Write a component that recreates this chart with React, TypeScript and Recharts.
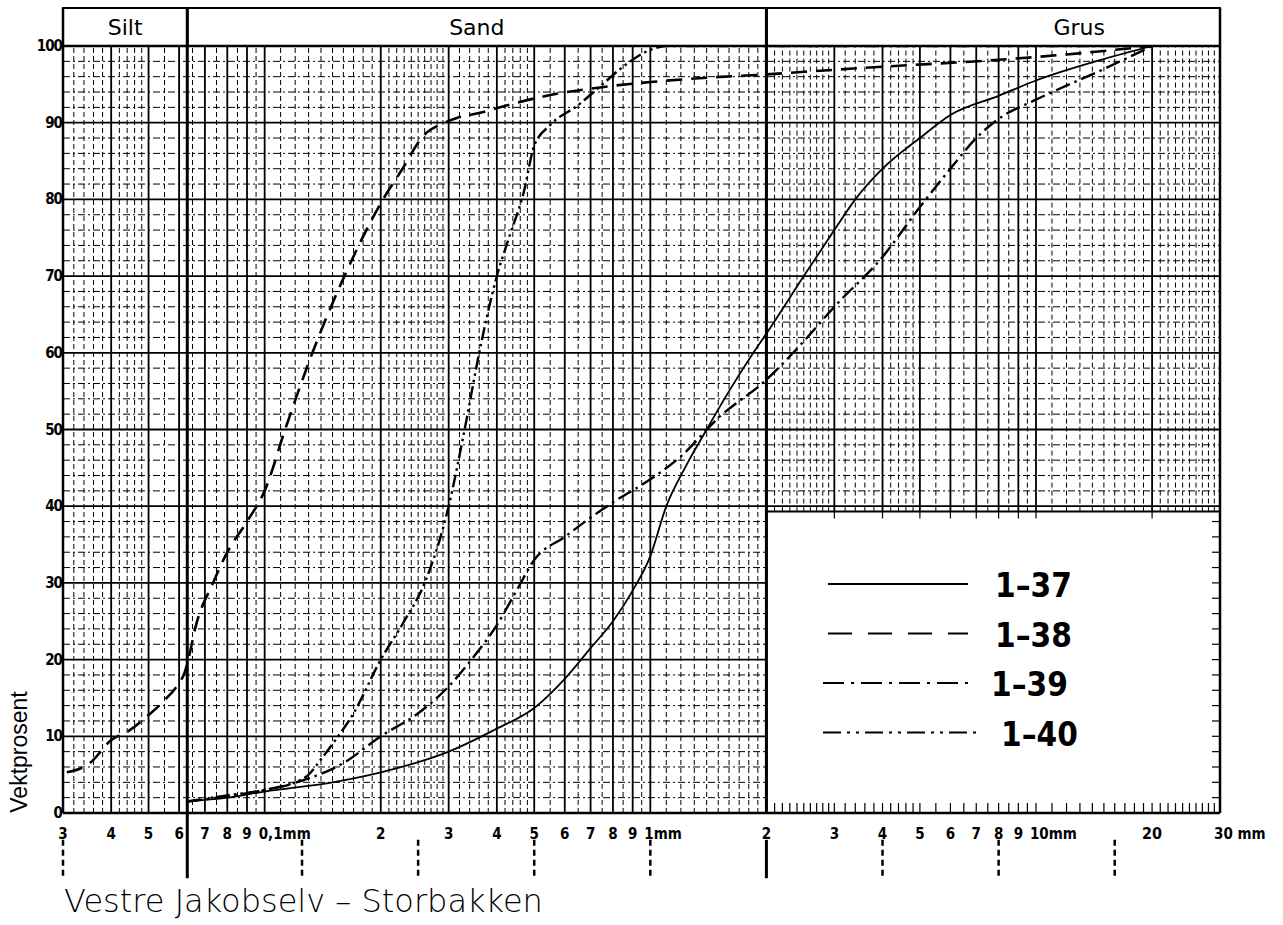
import React from "react";
import {
  ComposedChart,
  Line,
  XAxis,
  YAxis,
  ReferenceLine,
  ReferenceArea,
  Legend,
} from "recharts";

// Sieve analysis, grain size (mm, log scale) vs cumulative weight percent
const curve137 = [
  { size: 0.063, pct: 1.5 }, { size: 0.08, pct: 2 }, { size: 0.1, pct: 2.8 },
  { size: 0.15, pct: 4 }, { size: 0.2, pct: 5.3 }, { size: 0.3, pct: 8 },
  { size: 0.4, pct: 11 }, { size: 0.5, pct: 13.7 }, { size: 0.6, pct: 17.5 },
  { size: 0.7, pct: 21.5 }, { size: 0.8, pct: 25 }, { size: 0.9, pct: 29 },
  { size: 1, pct: 33.5 }, { size: 1.1, pct: 40 }, { size: 1.23, pct: 45 },
  { size: 1.4, pct: 50 }, { size: 1.6, pct: 55 }, { size: 1.85, pct: 60 },
  { size: 2, pct: 62.5 }, { size: 2.5, pct: 70 }, { size: 3, pct: 76 },
  { size: 3.4, pct: 80 }, { size: 4, pct: 84 }, { size: 5, pct: 88 },
  { size: 6, pct: 91 }, { size: 8, pct: 93.5 }, { size: 10, pct: 95.5 },
  { size: 15, pct: 98.3 }, { size: 20, pct: 100 },
];

const curve138 = [
  { size: 0.0307, pct: 5.3 }, { size: 0.0352, pct: 6.5 }, { size: 0.04, pct: 9.5 },
  { size: 0.0447, pct: 10.8 }, { size: 0.049, pct: 12.4 }, { size: 0.055, pct: 14.7 },
  { size: 0.0595, pct: 16.7 }, { size: 0.0621, pct: 18.4 }, { size: 0.0638, pct: 20.6 },
  { size: 0.066, pct: 24 }, { size: 0.0735, pct: 30 }, { size: 0.08, pct: 34 },
  { size: 0.09, pct: 38 }, { size: 0.1, pct: 42 }, { size: 0.113, pct: 50 },
  { size: 0.133, pct: 60 }, { size: 0.161, pct: 70 }, { size: 0.2, pct: 79.5 },
  { size: 0.231, pct: 84.5 }, { size: 0.25, pct: 87.4 }, { size: 0.263, pct: 88.7 },
  { size: 0.284, pct: 89.7 }, { size: 0.315, pct: 90.6 }, { size: 0.369, pct: 91.4 },
  { size: 0.45, pct: 92.6 }, { size: 0.55, pct: 93.6 }, { size: 0.74, pct: 94.6 },
  { size: 1, pct: 95.3 }, { size: 1.34, pct: 95.8 }, { size: 2, pct: 96.3 },
  { size: 3, pct: 96.9 }, { size: 4, pct: 97.3 }, { size: 8, pct: 98.2 },
  { size: 12, pct: 98.9 }, { size: 20, pct: 100 },
];

const curve139 = [
  { size: 0.063, pct: 1.5 }, { size: 0.08, pct: 2.2 }, { size: 0.1, pct: 3 },
  { size: 0.13, pct: 4.5 }, { size: 0.16, pct: 6.5 }, { size: 0.2, pct: 10 },
  { size: 0.25, pct: 13 }, { size: 0.3, pct: 16.5 }, { size: 0.35, pct: 20.5 },
  { size: 0.4, pct: 24.5 }, { size: 0.45, pct: 29 }, { size: 0.5, pct: 33 },
  { size: 0.6, pct: 36 }, { size: 0.7, pct: 38.5 }, { size: 0.8, pct: 40.5 },
  { size: 1, pct: 43.5 }, { size: 1.2, pct: 46.5 }, { size: 1.5, pct: 51.5 },
  { size: 2, pct: 56.5 }, { size: 2.5, pct: 61.5 }, { size: 3, pct: 66 },
  { size: 4, pct: 72.5 }, { size: 5, pct: 79 }, { size: 6, pct: 84 },
  { size: 7, pct: 88 }, { size: 8, pct: 90.5 }, { size: 10, pct: 93 },
  { size: 15, pct: 97 }, { size: 20, pct: 100 },
];

const curve140 = [
  { size: 0.063, pct: 1.5 }, { size: 0.08, pct: 2.3 }, { size: 0.1, pct: 3 },
  { size: 0.12, pct: 4 }, { size: 0.13, pct: 5 }, { size: 0.14, pct: 7 },
  { size: 0.15, pct: 9 }, { size: 0.17, pct: 13 }, { size: 0.2, pct: 20 },
  { size: 0.23, pct: 25 }, { size: 0.26, pct: 30 }, { size: 0.3, pct: 40 },
  { size: 0.33, pct: 50 }, { size: 0.36, pct: 60 }, { size: 0.4, pct: 70 },
  { size: 0.43, pct: 75 }, { size: 0.47, pct: 81 }, { size: 0.5, pct: 87 },
  { size: 0.55, pct: 89.7 }, { size: 0.65, pct: 92.3 }, { size: 0.74, pct: 94.7 },
  { size: 0.85, pct: 97.3 }, { size: 1, pct: 99.5 }, { size: 1.1, pct: 100 },
  { size: 20, pct: 100 },
];

const series = [
  { name: "1–37", data: curve137, dash: undefined, width: 1.8 },
  { name: "1–38", data: curve138, dash: "16 9", width: 2.6 },
  { name: "1–39", data: curve139, dash: "15 5 2.5 5", width: 2.4 },
  { name: "1–40", data: curve140, dash: "13 4 2.5 4 2.5 4", width: 2.4 },
];
const legendDash = [undefined, "24 16", "21 7 3 7", "18 6 3 6 3 6"];

const xTicks = [
  0.03, 0.04, 0.05, 0.06, 0.07, 0.08, 0.09, 0.1, 0.2, 0.3, 0.4, 0.5, 0.6, 0.7,
  0.8, 0.9, 1, 2, 3, 4, 5, 6, 7, 8, 9, 10, 20, 30,
];
const xTickText = [
  "3", "4", "5", "6", "7", "8", "9", "0,1mm", "2", "3", "4", "5", "6", "7",
  "8", "9", "1mm", "2", "3", "4", "5", "6", "7", "8", "9", "10mm", "20", "30 mm",
];
const yTicks = [0, 10, 20, 30, 40, 50, 60, 70, 80, 90, 100];

const fractionNames = ["Silt", "Sand", "Grus"];
const fractionBounds = [0.03, 0.063, 2, 30];
const dashedScaleMarks = [0.03, 0.125, 0.25, 0.5, 1, 4, 8, 16];

// paper geometry in data units
const X_MIN = 0.03;
const X_MAX = 30;
const HEADER_TOP = 104.95;
const BOX_TOP = 39.3;
const MARK_TOP = -3.5;
const MARK_BOTTOM = -8.5;

const NUM_FONT = "'DejaVu Sans Condensed', 'DejaVu Sans', sans-serif";

// log paper rulings
const majorX: number[] = [];
const minorX: number[] = [];
const subSteps = [
  1.1, 1.2, 1.3, 1.4, 1.5, 1.6, 1.7, 1.8, 1.9, 2.1, 2.2, 2.3, 2.4, 2.5, 2.6,
  2.7, 2.8, 2.9, 3.2, 3.4, 3.6, 3.8, 4.2, 4.4, 4.6, 4.8, 5.5, 6.5, 7.5, 8.5, 9.5,
];
for (const d of [0.01, 0.1, 1, 10]) {
  for (let m = 1; m <= 9; m++) {
    const v = +(m * d).toPrecision(6);
    if (v >= X_MIN && v <= X_MAX) majorX.push(v);
  }
  for (const s of subSteps) {
    const v = +(s * d).toPrecision(6);
    if (v > X_MIN && v < X_MAX) minorX.push(v);
  }
}
const rowsY: number[] = [];
for (let p = 2; p < 100; p += 2) rowsY.push(p);

const renderXTick = (props: any) => {
  const { x, y, index, payload } = props;
  const i = index ?? xTicks.indexOf(payload.value);
  const label = xTickText[i] ?? String(payload.value);
  const wide = label.includes("mm");
  return (
    <text
      key={`xt${i}`}
      x={wide ? x - 6 : x}
      y={y + 22}
      textAnchor={wide ? "start" : "middle"}
      fontFamily={NUM_FONT}
      fontWeight="bold"
      fontSize={label === "20" ? 16 : 15}
      fill="#000"
    >
      {label}
    </text>
  );
};

const renderYTick = (props: any) => {
  const { x, y, payload } = props;
  return (
    <text
      key={`yt${payload.value}`}
      x={x + 1}
      y={y + 5}
      textAnchor="end"
      fontFamily={NUM_FONT}
      fontWeight="bold"
      fontSize={15}
      letterSpacing={-1}
      fill="#000"
    >
      {payload.value}
    </text>
  );
};

const LegendBox = () => (
  <svg width={320} height={200}>
    {series.map((s, i) => {
      const y = 24 + i * 49.5;
      return (
        <g key={s.name}>
          <line
            x1={i < 2 ? 13 : 8}
            x2={i < 2 ? 153 : i === 2 ? 160 : 167}
            y1={y}
            y2={y}
            stroke="#000"
            strokeWidth={2}
            strokeDasharray={legendDash[i]}
          />
          <text
            x={i === 3 ? 186 : i === 2 ? 176 : 180}
            y={y + 13}
            fontFamily={NUM_FONT}
            fontWeight="bold"
            fontSize={33}
            fill="#000"
          >
            {s.name}
          </text>
        </g>
      );
    })}
  </svg>
);

export default function App() {
  return (
    <div
      style={{
        position: "absolute",
        left: 0,
        top: 0,
        width: 1283,
        height: 925,
        background: "#fff",
      }}
    >
      <ComposedChart
        width={1283}
        height={925}
        margin={{ top: 46, right: 63, bottom: 82, left: 23 }}
      >
        <XAxis
          dataKey="size"
          type="number"
          scale="log"
          domain={[X_MIN, X_MAX]}
          allowDataOverflow
          ticks={xTicks}
          interval={0}
          height={30}
          axisLine={false}
          tickLine={false}
          tickSize={0}
          tickMargin={4}
          tick={renderXTick}
        />
        <YAxis
          type="number"
          domain={[0, 100]}
          allowDataOverflow
          ticks={yTicks}
          interval={0}
          width={40}
          axisLine={false}
          tickLine={false}
          tickSize={0}
          tickMargin={2}
          tick={renderYTick}
        />

        {/* minor verticals, cut off above the legend box on the right */}
        {minorX.map((v) => (
          <ReferenceLine
            key={`mx${v}`}
            segment={[
              { x: v, y: v > 2 ? BOX_TOP : 0 },
              { x: v, y: 100 },
            ]}
            stroke="#000"
            strokeWidth={1}
            strokeDasharray="5 3"
            ifOverflow="visible"
          />
        ))}
        {majorX.map((v) => (
          <ReferenceLine
            key={`Mx${v}`}
            segment={[
              { x: v, y: v > 2 ? BOX_TOP : 0 },
              { x: v, y: 100 },
            ]}
            stroke="#000"
            strokeWidth={1.8}
            ifOverflow="visible"
          />
        ))}
        {/* small stubs along the legend box edges */}
        {[...majorX, ...minorX]
          .filter((v) => v > 2 && v < X_MAX)
          .map((v) => (
            <ReferenceLine
              key={`sb${v}`}
              segment={[
                { x: v, y: 0 },
                { x: v, y: 1.3 },
              ]}
              stroke="#000"
              strokeWidth={1.2}
              ifOverflow="visible"
            />
          ))}
        {majorX
          .filter((v) => v > 2 && v < X_MAX)
          .map((v) => (
            <ReferenceLine
              key={`st${v}`}
              segment={[
                { x: v, y: BOX_TOP - 0.9 },
                { x: v, y: BOX_TOP },
              ]}
              stroke="#000"
              strokeWidth={1.2}
              ifOverflow="visible"
            />
          ))}

        {/* horizontal rulings */}
        {rowsY.map((p) => (
          <ReferenceLine
            key={`h${p}`}
            segment={[
              { x: X_MIN, y: p },
              { x: p < BOX_TOP ? 2 : X_MAX, y: p },
            ]}
            stroke="#000"
            strokeWidth={p % 10 === 0 ? 1.8 : 1}
            strokeDasharray={p % 10 === 0 ? undefined : "7 3 2 3"}
            ifOverflow="visible"
          />
        ))}
        {rowsY
          .filter((p) => p < BOX_TOP)
          .map((p) => (
            <ReferenceLine
              key={`hs${p}`}
              segment={[
                { x: 28.6, y: p },
                { x: X_MAX, y: p },
              ]}
              stroke="#000"
              strokeWidth={1.2}
              ifOverflow="visible"
            />
          ))}

        {/* legend box top edge */}
        <ReferenceLine
          segment={[
            { x: 2, y: BOX_TOP },
            { x: X_MAX, y: BOX_TOP },
          ]}
          stroke="#000"
          strokeWidth={2}
          ifOverflow="visible"
        />

        {/* frame */}
        <ReferenceLine y={0} stroke="#000" strokeWidth={2.5} ifOverflow="visible" />
        <ReferenceLine y={100} stroke="#000" strokeWidth={2.5} ifOverflow="visible" />
        <ReferenceLine
          segment={[
            { x: X_MIN, y: 0 },
            { x: X_MIN, y: HEADER_TOP },
          ]}
          stroke="#000"
          strokeWidth={2.5}
          ifOverflow="visible"
        />
        <ReferenceLine
          segment={[
            { x: X_MAX, y: 0 },
            { x: X_MAX, y: HEADER_TOP },
          ]}
          stroke="#000"
          strokeWidth={2.5}
          ifOverflow="visible"
        />

        {/* fraction header */}
        {fractionNames.map((name, i) => (
          <ReferenceArea
            key={name}
            x1={fractionBounds[i]}
            x2={fractionBounds[i + 1]}
            y1={100}
            y2={HEADER_TOP}
            fill="none"
            stroke="#000"
            strokeWidth={2}
            ifOverflow="visible"
            label={{
              value: name,
              position: name === "Grus" ? "insideRight" : "center",
              offset: name === "Grus" ? 115 : 5,
              fontSize: 22,
              fontFamily: "'DejaVu Sans', sans-serif",
              fill: "#000",
            }}
          />
        ))}

        {/* fraction boundaries and scale marks below the axis */}
        <ReferenceLine
          segment={[
            { x: 0.063, y: MARK_BOTTOM },
            { x: 0.063, y: HEADER_TOP },
          ]}
          stroke="#000"
          strokeWidth={3}
          ifOverflow="visible"
        />
        <ReferenceLine
          segment={[
            { x: 2, y: 0 },
            { x: 2, y: HEADER_TOP },
          ]}
          stroke="#000"
          strokeWidth={3}
          ifOverflow="visible"
        />
        <ReferenceLine
          segment={[
            { x: 2, y: MARK_TOP },
            { x: 2, y: MARK_BOTTOM },
          ]}
          stroke="#000"
          strokeWidth={3}
          ifOverflow="visible"
        />
        {dashedScaleMarks.map((v) => (
          <ReferenceLine
            key={`mk${v}`}
            segment={[
              { x: v, y: MARK_TOP },
              { x: v, y: MARK_BOTTOM },
            ]}
            stroke="#000"
            strokeWidth={2.5}
            strokeDasharray="6 4"
            ifOverflow="visible"
          />
        ))}

        {series.map((s) => (
          <Line
            key={s.name}
            name={s.name}
            data={s.data}
            dataKey="pct"
            type="monotone"
            stroke="#000"
            strokeWidth={s.width}
            strokeDasharray={s.dash}
            dot={false}
            activeDot={false}
            isAnimationActive={false}
          />
        ))}

        <Legend
          layout="vertical"
          align="center"
          verticalAlign="middle"
          content={<LegendBox />}
          wrapperStyle={{ left: 815, top: 560, width: 320, height: 200 }}
        />
      </ComposedChart>

      <svg
        width={1283}
        height={925}
        style={{ position: "absolute", left: 0, top: 0, pointerEvents: "none" }}
      >
        <text
          transform="translate(27 752) rotate(-90)"
          textAnchor="middle"
          fontFamily="'Liberation Sans', Arial, sans-serif"
          fontSize={23}
          fill="#000"
        >
          Vektprosent
        </text>
        <text
          x={64}
          y={912}
          fontFamily="'DejaVu Sans ExtraLight', 'DejaVu Sans', sans-serif"
          fontWeight={200}
          fontSize={32}
          fill="#000"
        >
          Vestre Jakobselv – Storbakken
        </text>
      </svg>
    </div>
  );
}
